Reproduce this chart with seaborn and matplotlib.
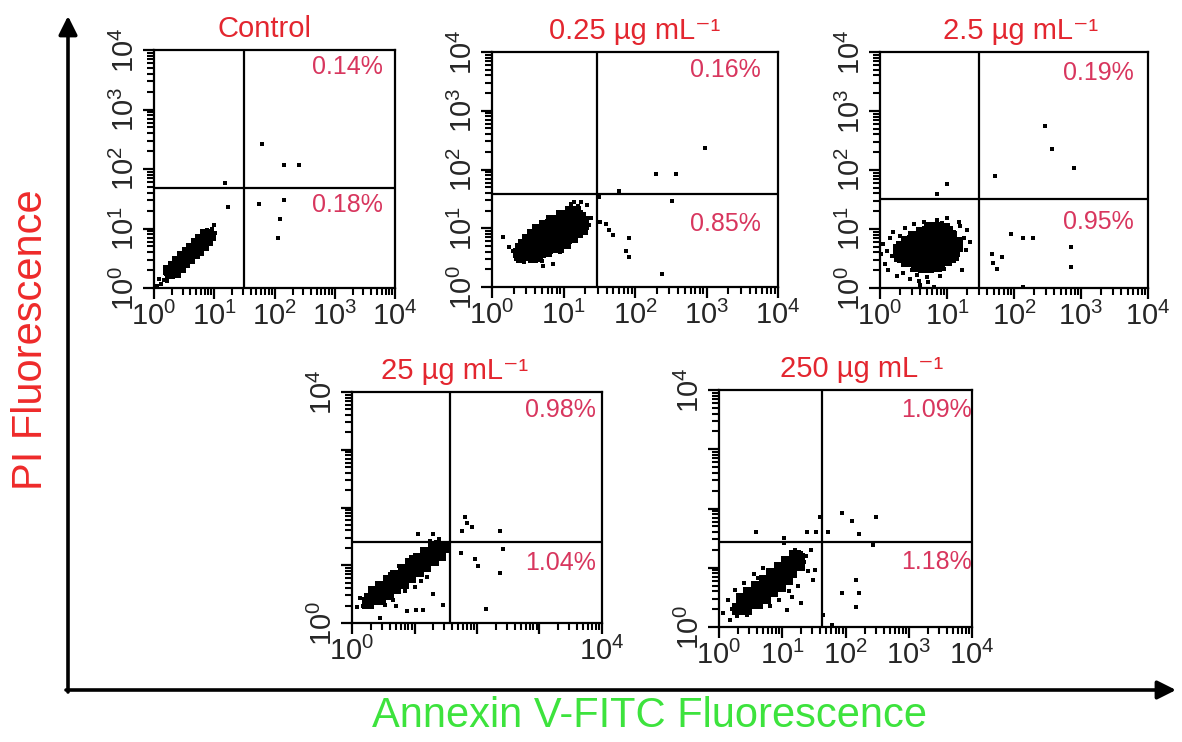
import numpy as np
import seaborn as sns
import matplotlib.pyplot as plt
from matplotlib.ticker import FixedLocator, FixedFormatter, LogLocator, NullFormatter

sns.set_style('ticks')
plt.rcParams['font.family'] = ['Liberation Sans', 'DejaVu Sans']
NARROW = ['Liberation Sans Narrow', 'Liberation Sans', 'DejaVu Sans']

# panel titles and quadrant percentages (upper right, lower right)
titles = ['Control', '0.25 µg mL⁻¹', '2.5 µg mL⁻¹', '25 µg mL⁻¹', '250 µg mL⁻¹']
pct_upper = ['0.14%', '0.16%', '0.19%', '0.98%', '1.09%']
pct_lower = ['0.18%', '0.85%', '0.95%', '1.04%', '1.18%']

# quadrant gates, in decades (log10)
gate_x = [1.49, 1.47, 1.48, 1.57, 1.63]
gate_y = [1.68, 1.58, 1.51, 1.40, 1.43]

# all point coordinates below are in decades (log10 of fluorescence)
# dense population (drawn with bigger dots)
ctrl_core_x = [0.27, 0.31, 0.35, 0.39, 0.43, 0.47, 0.51, 0.55, 0.59, 0.63, 0.67, 0.71, 0.75, 0.79, 0.83, 0.87, 0.91,
               0.24, 0.31, 0.39, 0.46, 0.54, 0.61, 0.69, 0.76, 0.84,
               0.36, 0.44, 0.52, 0.60, 0.68, 0.75, 0.83, 0.90, 0.95]
ctrl_core_y = [0.24, 0.29, 0.32, 0.37, 0.41, 0.45, 0.50, 0.53, 0.58, 0.61, 0.66, 0.69, 0.74, 0.77, 0.82, 0.85, 0.90,
               0.31, 0.37, 0.45, 0.53, 0.60, 0.68, 0.75, 0.83, 0.91,
               0.26, 0.34, 0.42, 0.49, 0.57, 0.63, 0.71, 0.79, 0.88]
ctrl_dot_x = [0.17, 0.12, 0.21, 0.08, 0.96, 0.99, 0.72, 0.57, 0.88, 0.20, 0.05, 1.01, 0.33, 0.93,
              1.18, 1.23, 1.79, 2.15, 2.41, 1.75, 2.15, 2.09, 2.05]
ctrl_dot_y = [0.14, 0.07, 0.11, 0.15, 0.99, 1.06, 0.86, 0.71, 0.97, 0.24, 0.03, 0.93, 0.43, 0.80,
              1.76, 1.36, 2.42, 2.07, 2.07, 1.42, 1.48, 1.16, 0.84]

d025_core_x = [0.41, 0.49, 0.57, 0.64,
               0.36, 0.44, 0.52, 0.60, 0.68, 0.77,
               0.39, 0.47, 0.55, 0.63, 0.71, 0.79, 0.87, 0.94,
               0.43, 0.51, 0.59, 0.67, 0.75, 0.83, 0.91, 0.99, 1.04,
               0.49, 0.57, 0.65, 0.73, 0.81, 0.89, 0.97, 1.05, 1.13,
               0.56, 0.64, 0.72, 0.80, 0.88, 0.96, 1.04, 1.12, 1.20,
               0.63, 0.71, 0.79, 0.87, 0.95, 1.03, 1.11, 1.19, 1.27,
               0.73, 0.81, 0.89, 0.97, 1.05, 1.13, 1.21, 1.29,
               0.83, 0.91, 0.99, 1.07, 1.15, 1.23, 1.29,
               0.96, 1.04, 1.12, 1.20, 1.25,
               1.09, 1.18]
d025_core_y = [0.50, 0.52, 0.49, 0.51,
               0.58, 0.60, 0.57, 0.59, 0.58, 0.60,
               0.66, 0.67, 0.65, 0.68, 0.66, 0.64, 0.67, 0.66,
               0.74, 0.73, 0.76, 0.74, 0.75, 0.72, 0.74, 0.76, 0.73,
               0.82, 0.84, 0.81, 0.83, 0.82, 0.80, 0.83, 0.82, 0.84,
               0.90, 0.91, 0.89, 0.92, 0.90, 0.88, 0.91, 0.90, 0.92,
               0.98, 0.97, 1.00, 0.98, 0.99, 0.97, 0.98, 1.00, 0.97,
               1.06, 1.07, 1.05, 1.08, 1.06, 1.05, 1.07, 1.06,
               1.14, 1.13, 1.15, 1.14, 1.12, 1.15, 1.13,
               1.22, 1.21, 1.23, 1.22, 1.20,
               1.30, 1.29]
d025_dot_x = [0.30, 0.33, 0.45, 1.33, 1.25, 1.20, 1.38, 1.36, 1.30, 0.95, 0.70, 1.10, 0.52,
              2.98, 2.29, 2.57, 1.78, 2.52, 1.51, 1.60, 1.64, 1.69, 1.92, 1.88, 1.92, 2.38,
              0.72, 0.86, 0.16, 0.24, 1.14, 1.49]
d025_dot_y = [0.62, 0.48, 0.42, 1.40, 1.44, 1.38, 1.18, 1.05, 0.95, 0.60, 0.45, 1.42, 0.78,
              2.36, 1.92, 1.92, 1.63, 1.46, 1.11, 1.07, 0.97, 0.89, 0.83, 0.62, 0.51, 0.22,
              0.35, 0.39, 0.85, 0.68, 1.45, 1.54]

d25_core_x = [0.55, 0.66, 0.74, 0.83,
              0.40, 0.50, 0.60, 0.69, 0.78, 0.88, 0.97,
              0.30, 0.40, 0.49, 0.58, 0.68, 0.77, 0.86, 0.95, 1.05,
              0.28, 0.37, 0.46, 0.56, 0.65, 0.74, 0.83, 0.93, 1.02, 1.10,
              0.33, 0.42, 0.51, 0.60, 0.70, 0.79, 0.88, 0.98, 1.07, 1.15,
              0.40, 0.49, 0.58, 0.67, 0.76, 0.86, 0.95, 1.04, 1.13,
              0.50, 0.59, 0.68, 0.78, 0.87, 0.96, 1.06,
              0.62, 0.72, 0.81, 0.90, 1.00,
              0.75, 0.86, 0.95]
d25_core_y = [0.38, 0.36, 0.39, 0.37,
              0.46, 0.47, 0.45, 0.46, 0.48, 0.45, 0.47,
              0.54, 0.55, 0.53, 0.54, 0.56, 0.53, 0.55, 0.54, 0.52,
              0.62, 0.63, 0.61, 0.62, 0.64, 0.61, 0.63, 0.62, 0.60, 0.63,
              0.70, 0.71, 0.69, 0.70, 0.72, 0.69, 0.71, 0.70, 0.68, 0.71,
              0.78, 0.79, 0.77, 0.78, 0.80, 0.77, 0.79, 0.78, 0.76,
              0.86, 0.87, 0.85, 0.86, 0.88, 0.85, 0.86,
              0.94, 0.95, 0.93, 0.94, 0.95,
              1.01, 1.02, 1.00]
d25_dot_x = [0.05, 0.10, 0.08, 0.15, 0.12, 0.18, 0.20, 0.25, 0.22, 0.30, 0.35, 0.38, 0.45, 0.50,
             0.55, 0.60, 0.65, 0.70, 0.72, 0.78, 0.80, 0.85, 0.90, 0.95, 1.00, 1.05, 1.10, 1.15,
             1.20, 1.25, 1.28, 1.22, 1.35, 0.02, 0.28, 1.18, 0.92, 0.58, 0.48, 1.30,
             2.47, 2.57, 2.90, 1.72, 1.00, 0.85, 1.95, 2.13, 2.29, 1.67, 1.82, 1.69, 1.74,
             2.85, 2.85, 2.13]
d25_dot_y = [0.75, 0.62, 0.40, 0.85, 0.30, 0.55, 0.95, 0.20, 0.72, 0.88, 0.25, 1.02, 0.15, 1.08,
             0.22, 0.05, 1.12, 0.18, 0.10, 0.28, 0.02, 1.15, 0.20, 0.32, 1.18, 0.40, 0.95, 0.50,
             1.05, 0.85, 0.65, 0.30, 0.78, 0.58, 0.45, 1.12, 1.10, 0.12, 0.30, 0.98,
             2.75, 2.36, 2.03, 1.90, 1.76, 1.59, 0.92, 0.84, 0.84, 0.58, 0.52, 0.42, 0.33,
             0.69, 0.35, 0.02]

d250_core_x = [0.25, 0.31, 0.37, 0.43, 0.49, 0.55, 0.61, 0.67, 0.73, 0.79, 0.85, 0.91, 0.97, 1.03, 1.09,
               1.15, 1.21, 1.27, 1.33, 1.39, 1.45,
               0.35, 0.47, 0.59, 0.71, 0.83, 0.95, 1.07, 1.19, 1.31,
               0.45, 0.57, 0.69, 0.81, 0.93, 1.05, 1.17, 1.29, 1.41]
d250_core_y = [0.35, 0.41, 0.45, 0.49, 0.56, 0.60, 0.63, 0.70, 0.74, 0.78, 0.85, 0.88, 0.92, 0.99, 1.03,
               1.07, 1.13, 1.17, 1.21, 1.28, 1.31,
               0.54, 0.63, 0.73, 0.82, 0.92, 1.02, 1.11, 1.21, 1.30,
               0.42, 0.51, 0.61, 0.70, 0.80, 0.90, 0.99, 1.09, 1.18]
d250_dot_x = [1.81, 1.76, 1.92, 1.84, 2.37, 2.42, 1.74, 1.97, 2.02, 2.37, 2.14, 1.06, 1.29, 1.46,
              1.14, 1.03, 0.45, 0.29, 0.42, 0.13, 1.30, 0.88,
              0.18, 0.22, 0.60, 0.75, 0.95, 1.10, 1.20, 0.85, 1.35, 1.40, 0.65, 1.00, 0.52, 0.08,
              1.25, 0.70]
d250_dot_y = [1.84, 1.60, 1.67, 1.73, 1.60, 1.28, 1.22, 1.10, 0.99, 0.86, 0.25, 1.54, 1.54, 0.31,
              0.22, 0.22, 0.08, 0.60, 0.57, 0.43, 0.51, 0.20,
              0.30, 0.48, 0.85, 0.98, 1.15, 0.72, 0.80, 0.55, 1.40, 1.45, 0.40, 0.62, 0.32, 0.28,
              1.42, 0.30]

d2500_core_x = [0.30, 0.36, 0.42, 0.48, 0.54, 0.60, 0.66, 0.72, 0.78, 0.84, 0.90, 0.96, 1.02, 1.08, 1.14,
                1.20, 1.26,
                0.36, 0.48, 0.60, 0.72, 0.84, 0.96, 1.08, 1.20,
                0.42, 0.54, 0.66, 0.78, 0.90, 1.02, 1.14, 1.26,
                0.60, 0.72, 0.84, 0.96, 1.08]
d2500_core_y = [0.31, 0.35, 0.42, 0.46, 0.50, 0.58, 0.62, 0.66, 0.74, 0.78, 0.82, 0.89, 0.94, 0.98, 1.05,
                1.09, 1.14,
                0.47, 0.57, 0.68, 0.78, 0.89, 0.99, 1.10, 1.20,
                0.30, 0.40, 0.51, 0.62, 0.72, 0.83, 0.93, 1.04,
                0.40, 0.49, 0.60, 0.70, 0.81]
d2500_dot_x = [1.94, 2.11, 2.49, 2.22, 1.73, 1.60, 1.54, 1.39, 0.58, 1.02, 1.02, 2.44, 2.17, 1.94,
               2.22, 2.17, 1.49, 1.51, 1.29, 1.07, 1.65, 1.78, 0.07, 0.17,
               0.25, 0.40, 0.55, 0.70, 1.30, 1.35, 1.40, 1.25, 1.10, 0.95, 0.80, 0.20, 0.15, 0.28,
               1.45, 1.38, 0.45, 1.20, 0.62, 1.15]
d2500_dot_y = [1.92, 1.79, 1.85, 1.57, 1.61, 1.86, 1.61, 1.61, 1.61, 1.50, 1.42, 1.38, 0.79, 0.57,
               0.57, 0.33, 0.79, 0.96, 0.40, 0.29, 0.20, 0.03, 0.23, 0.12,
               0.62, 0.75, 0.90, 1.00, 1.25, 1.10, 0.95, 0.70, 0.60, 0.45, 0.35, 0.30, 0.45, 0.18,
               1.30, 1.20, 0.20, 1.30, 0.82, 0.50]

core_x = [ctrl_core_x, d025_core_x, d25_core_x, d250_core_x, d2500_core_x]
core_y = [ctrl_core_y, d025_core_y, d25_core_y, d250_core_y, d2500_core_y]
dot_x = [ctrl_dot_x, d025_dot_x, d25_dot_x, d250_dot_x, d2500_dot_x]
dot_y = [ctrl_dot_y, d025_dot_y, d25_dot_y, d250_dot_y, d2500_dot_y]
core_size = [60, 60, 75, 70, 80]

# which decade labels are shown (x, y) per panel
xlab_show = [[0, 1, 2, 3, 4]] * 3 + [[0, 4], [0, 1, 2, 3, 4]]
ylab_show = [[0, 1, 2, 3, 4]] * 3 + [[0, 4], [0, 4]]

# panel boxes in pixels: left, top, right, bottom
W, H = 1182, 742
boxes = [(154, 50, 395, 288), (492, 52, 778, 287), (880, 52, 1148, 288),
         (352, 392, 602, 623), (719, 390, 972, 627)]
title_xfrac = [0.46, 0.50, 0.525, 0.41, 0.565]
up_pos = [(0.95, 0.93), (0.94, 0.925), (0.945, 0.91), (0.975, 0.92), (1.0, 0.915)]
low_pos = [(0.95, 0.35), (0.94, 0.27), (0.945, 0.28), (0.975, 0.26), (1.0, 0.275)]

title_red = '#e3262f'
pct_red = '#d8365e'

fig = plt.figure(figsize=(W / 100, H / 100), dpi=100)

# big axis arrows on an overlay
over = fig.add_axes([0, 0, 1, 1])
over.set_xlim(0, W)
over.set_ylim(H, 0)
over.axis('off')
over.annotate('', xy=(68, 16), xytext=(68, 692),
              arrowprops=dict(arrowstyle='-|>', lw=2.6, color='black', mutation_scale=28, shrinkA=0, shrinkB=0))
over.annotate('', xy=(1176, 690), xytext=(66, 690),
              arrowprops=dict(arrowstyle='-|>', lw=2.6, color='black', mutation_scale=28, shrinkA=0, shrinkB=0))
over.text(31, 340, 'PI Fluorescence', rotation=90, ha='center', va='center', fontsize=30, color='#ee2a2a')
over.text(650, 716, 'Annexin V-FITC Fluorescence', ha='center', va='center', fontsize=30, color='#3de33d')

dec_labels = [r'$\mathregular{10^{%d}}$' % k for k in range(5)]

for i in range(5):
    l, t, r, b = boxes[i]
    ax = fig.add_axes([l / W, (H - b) / H, (r - l) / W, (b - t) / H])
    sns.scatterplot(x=np.power(10.0, core_x[i]), y=np.power(10.0, core_y[i]), ax=ax,
                    color='black', marker='s', s=core_size[i], linewidth=0)
    sns.scatterplot(x=np.power(10.0, dot_x[i]), y=np.power(10.0, dot_y[i]), ax=ax,
                    color='black', marker='s', s=7, linewidth=0)
    ax.set_xscale('log')
    ax.set_yscale('log')
    ax.set_xlim(1, 1e4)
    ax.set_ylim(1, 1e4)
    ax.axvline(10 ** gate_x[i], color='black', lw=1.6)
    ax.axhline(10 ** gate_y[i], color='black', lw=1.6)
    ax.set_xlabel('')
    ax.set_ylabel('')
    for s in ax.spines.values():
        s.set_visible(True)
        s.set_linewidth(1.6)
        s.set_color('black')

    ticks = [10.0 ** k for k in range(5)]
    for axis, show in ((ax.xaxis, xlab_show[i]), (ax.yaxis, ylab_show[i])):
        axis.set_major_locator(FixedLocator(ticks))
        axis.set_major_formatter(FixedFormatter([dec_labels[k] if k in show else '' for k in range(5)]))
        axis.set_minor_locator(LogLocator(base=10, subs=np.arange(2, 10), numticks=20))
        axis.set_minor_formatter(NullFormatter())
    ax.tick_params(which='major', direction='out', length=8, width=1.6, color='black',
                   labelsize=21, pad=2, top=False, right=False)
    ax.tick_params(which='minor', direction='out', length=5, width=1.5, color='black',
                   top=False, right=False)
    ax.tick_params(axis='y', labelrotation=90)
    for lab in ax.get_xticklabels() + ax.get_yticklabels():
        lab.set_family(NARROW)
        lab.set_fontsize(21)
    for lab in ax.get_yticklabels():
        lab.set_va('center')

    ax.text(title_xfrac[i], 1.03, titles[i], transform=ax.transAxes, ha='center', va='bottom',
            fontsize=21, color=title_red)
    ax.text(up_pos[i][0], up_pos[i][1], pct_upper[i], transform=ax.transAxes, ha='right', va='center',
            fontsize=18, color=pct_red)
    ax.text(low_pos[i][0], low_pos[i][1], pct_lower[i], transform=ax.transAxes, ha='right', va='center',
            fontsize=18, color=pct_red)

fig.savefig('out.png', dpi=100)
